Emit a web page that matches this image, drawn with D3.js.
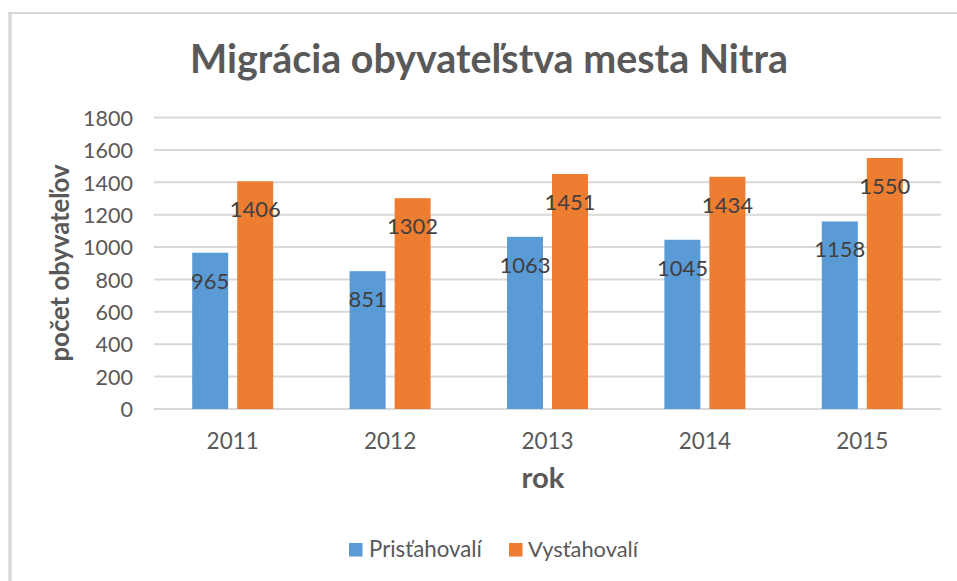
<!DOCTYPE html>
<html>
<head>
<meta charset="utf-8">
<script src="https://cdn.jsdelivr.net/npm/d3@7"></script>
<style>
  html, body { margin: 0; padding: 0; background: #fff; }
  svg { display: block; }
  text { font-family: Lato, "Open Sans", sans-serif; }
</style>
</head>
<body>
<script>
const categories = ["2011", "2012", "2013", "2014", "2015"];
const seriesNames = ["Prisťahovalí", "Vysťahovalí"];
const prist = [965, 851, 1063, 1045, 1158];
const vyst = [1406, 1302, 1451, 1434, 1550];
const yTicks = [0, 200, 400, 600, 800, 1000, 1200, 1400, 1600, 1800];
const colors = ["#5B9BD5", "#ED7D31"];
const titleText = "Migrácia obyvateľstva mesta Nitra";
const xTitle = "rok";
const yTitle = "počet obyvateľov";

const W = 957, H = 581;
const svg = d3.select("body").append("svg").attr("width", W).attr("height", H);

function fit(sel, target) {
  const w = sel.node().getComputedTextLength();
  const fs = parseFloat(sel.attr("font-size"));
  sel.attr("font-size", fs * target / w);
}

// frame (top and left edges visible)
svg.append("line").attr("x1", 8).attr("x2", W).attr("y1", 13).attr("y2", 13)
  .attr("stroke", "#d9d9d9").attr("stroke-width", 2);
svg.append("line").attr("x1", 10).attr("x2", 10).attr("y1", 12).attr("y2", H)
  .attr("stroke", "#d9d9d9").attr("stroke-width", 3.5);

const plot = { left: 154, right: 941, top: 117.5, bottom: 409 };

const x0 = d3.scaleBand().domain(categories).range([plot.left, plot.right]).padding(0);
const groupW = 81;
const x1 = d3.scaleBand().domain(seriesNames).range([0, groupW]).paddingInner(0.2).paddingOuter(0);
const y = d3.scaleLinear().domain([0, 1800]).range([plot.bottom, plot.top]);

// gridlines
svg.append("g").selectAll("line").data(yTicks).join("line")
  .attr("x1", plot.left).attr("x2", plot.right)
  .attr("y1", d => y(d)).attr("y2", d => y(d))
  .attr("stroke", "#d9d9d9").attr("stroke-width", 2);

// y axis labels
const yAxis = d3.axisLeft(y).tickValues(yTicks).tickFormat(d3.format("d")).tickSize(0).tickPadding(0);
const yg = svg.append("g").attr("transform", `translate(${plot.left - 21},0)`).call(yAxis);
yg.select(".domain").remove();
yg.selectAll("text").attr("font-family", "Lato, sans-serif").attr("font-size", 21.5)
  .attr("fill", "#595959").attr("dy", "0.36em");

// x axis labels
const xAxis = d3.axisBottom(x0).tickSize(0).tickPadding(0);
const xg = svg.append("g").attr("transform", `translate(0,${plot.bottom})`).call(xAxis);
xg.select(".domain").remove();
xg.selectAll("text").attr("font-family", "Lato, sans-serif").attr("font-size", 22.5)
  .attr("fill", "#595959").attr("dy", 0).attr("y", 39.5);

// bars
const data = categories.map((c, i) => ({ cat: c, vals: [prist[i], vyst[i]] }));
const groups = svg.append("g").selectAll("g").data(data).join("g")
  .attr("transform", d => `translate(${x0(d.cat) + (x0.bandwidth() - groupW) / 2},0)`);

groups.selectAll("rect").data(d => d.vals.map((v, j) => ({ v, s: seriesNames[j], j })))
  .join("rect")
  .attr("x", d => x1(d.s)).attr("width", x1.bandwidth())
  .attr("y", d => y(d.v)).attr("height", d => y(0) - y(d.v))
  .attr("fill", d => colors[d.j]);

groups.selectAll("text.lbl").data(d => d.vals.map((v, j) => ({ v, s: seriesNames[j], j })))
  .join("text").attr("class", "lbl")
  .attr("x", d => x1(d.s) + x1.bandwidth() / 2)
  .attr("y", d => y(d.v) + 28)
  .attr("dy", "0.36em")
  .attr("text-anchor", "middle")
  .attr("font-size", 22).attr("fill", "#404040")
  .text(d => d.v);

// title
const t = svg.append("text").attr("x", 489).attr("y", 73).attr("text-anchor", "middle")
  .attr("font-size", 36).attr("font-weight", 700).attr("fill", "#595959").text(titleText);
fit(t, 598);

// axis titles
const xt = svg.append("text").attr("x", 543).attr("y", 488).attr("text-anchor", "middle")
  .attr("font-size", 22).attr("font-weight", 700).attr("fill", "#595959").text(xTitle);
fit(xt, 43);

const yt = svg.append("text").attr("transform", "translate(69,263) rotate(-90)")
  .attr("text-anchor", "middle")
  .attr("font-size", 22).attr("font-weight", 700).attr("fill", "#595959").text(yTitle);
fit(yt, 197);

// legend
const legendItems = [
  { name: seriesNames[0], color: colors[0], sx: 349, tx: 369, tw: 113 },
  { name: seriesNames[1], color: colors[1], sx: 509, tx: 528, tw: 110 }
];
const lg = svg.append("g");
legendItems.forEach(it => {
  lg.append("rect").attr("x", it.sx).attr("y", 543).attr("width", 13.5).attr("height", 13.5)
    .attr("fill", it.color);
  const tt = lg.append("text").attr("x", it.tx).attr("y", 557)
    .attr("font-size", 20).attr("fill", "#595959").text(it.name);
  fit(tt, it.tw);
});
</script>
</body>
</html>
